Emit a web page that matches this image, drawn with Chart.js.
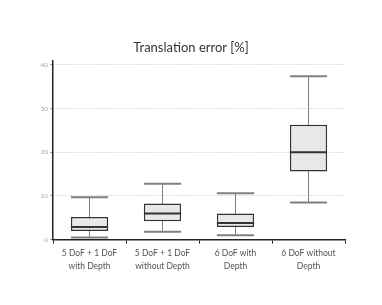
<!DOCTYPE html>
<html lang="en">
<head>
  <meta charset="UTF-8" />
  <script src="https://cdn.jsdelivr.net/npm/chart.js"></script>
  <title>Translation error</title>
  <style>
    html, body { margin: 0; padding: 0; background: #fff; }
    #wrap { width: 382px; height: 305px; }
  </style>
</head>
<body>
  <div id="wrap"><canvas id="boxChart"></canvas></div>
  <script>
    // values
    const categories = [
      ['5 DoF + 1 DoF', 'with Depth'],
      ['5 DoF + 1 DoF', 'without Depth'],
      ['6 DoF with', 'Depth'],
      ['6 DoF without', 'Depth']
    ];
    const whiskerLow = [0.5, 1.8, 1.0, 8.5];
    const q1 = [2.0, 4.2, 2.9, 15.6];
    const median = [2.9, 6.0, 3.8, 20.0];
    const q3 = [5.2, 8.3, 6.0, 26.3];
    const whiskerHigh = [9.7, 12.8, 10.6, 37.4];
    const yTicks = [0, 10, 20, 30, 40];

    const fontFamily = 'Lato, "DejaVu Sans", sans-serif';

    // whiskers behind the boxes, medians on top
    const boxParts = {
      id: 'boxParts',
      beforeDatasetsDraw(chart) {
        const ctx = chart.ctx;
        const y = chart.scales.y;
        const bars = chart.getDatasetMeta(0).data;
        ctx.save();
        ctx.strokeStyle = '#808080';
        bars.forEach((bar, i) => {
          const half = bar.width / 2;
          ctx.lineWidth = 1;
          ctx.beginPath();
          ctx.moveTo(bar.x, y.getPixelForValue(whiskerLow[i]));
          ctx.lineTo(bar.x, y.getPixelForValue(whiskerHigh[i]));
          ctx.stroke();
          ctx.lineWidth = 2;
          [whiskerLow[i], whiskerHigh[i]].forEach(v => {
            const py = y.getPixelForValue(v);
            ctx.beginPath();
            ctx.moveTo(bar.x - half, py);
            ctx.lineTo(bar.x + half, py);
            ctx.stroke();
          });
        });
        ctx.restore();
      },
      afterDatasetsDraw(chart) {
        const ctx = chart.ctx;
        const y = chart.scales.y;
        const bars = chart.getDatasetMeta(0).data;
        ctx.save();
        ctx.strokeStyle = '#333';
        ctx.lineWidth = 2;
        bars.forEach((bar, i) => {
          const half = bar.width / 2;
          const py = y.getPixelForValue(median[i]);
          ctx.beginPath();
          ctx.moveTo(bar.x - half, py);
          ctx.lineTo(bar.x + half, py);
          ctx.stroke();
        });
        ctx.restore();
      }
    };

    new Chart(document.getElementById('boxChart'), {
      type: 'bar',
      data: {
        labels: categories,
        datasets: [{
          label: 'Translation error',
          data: q1.map((v, i) => [v, q3[i]]),
          backgroundColor: '#e8e8e8',
          borderColor: '#333',
          borderWidth: 1.5,
          borderSkipped: false,
          categoryPercentage: 1,
          barPercentage: 0.51
        }]
      },
      options: {
        responsive: true,
        maintainAspectRatio: false,
        animation: false,
        layout: { padding: { top: 40, right: 0, bottom: 29, left: 0 } },
        plugins: {
          legend: { display: false },
          tooltip: { enabled: false },
          title: {
            display: true,
            text: 'Translation error [%]',
            color: '#333',
            font: { family: fontFamily, size: 13, weight: 'normal' },
            padding: { top: 0, bottom: 5 }
          }
        },
        scales: {
          x: {
            grid: {
              display: true,
              drawOnChartArea: false,
              offset: true,
              tickLength: 4,
              tickColor: '#222',
              tickWidth: 1
            },
            border: { display: true, color: '#222', width: 1.5 },
            ticks: {
              color: '#555',
              font: { family: fontFamily, size: 8.5, lineHeight: 1.55 },
              padding: 3,
              maxRotation: 0
            }
          },
          y: {
            min: 0,
            max: 41,
            afterBuildTicks(scale) {
              scale.ticks = yTicks.map(v => ({ value: v }));
            },
            afterFit(scale) { scale.width = 53; },
            grid: {
              color: ctx => ctx.tick && ctx.tick.value === 0 ? 'rgba(0,0,0,0)' : '#c8c8c8',
              lineWidth: 1,
              tickLength: 3,
              tickColor: '#999',
              tickBorderDash: []
            },
            border: { display: true, color: '#222', width: 1.5, dash: [1, 1.5] },
            ticks: {
              color: '#aaa',
              font: { family: fontFamily, size: 6.5 },
              padding: 2
            }
          },
          // empty right-hand margin so the title stays centred on the canvas
          yRight: {
            position: 'right',
            display: true,
            afterFit(scale) { scale.width = 37; },
            grid: { display: false },
            border: { display: false },
            ticks: { display: false }
          }
        }
      },
      plugins: [boxParts]
    });
  </script>
</body>
</html>
